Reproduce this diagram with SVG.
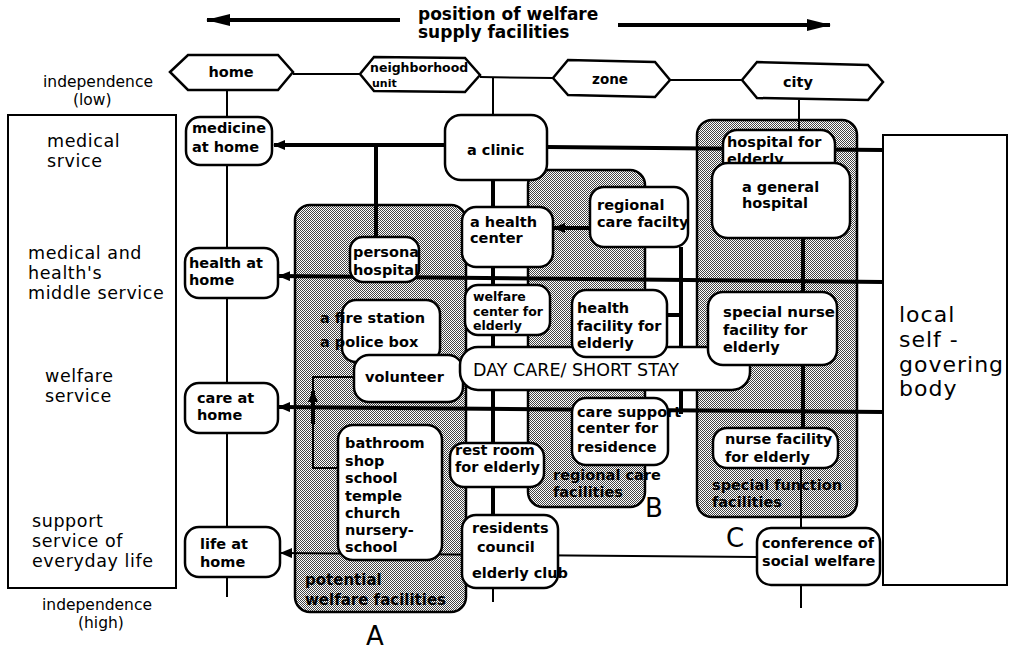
<svg xmlns="http://www.w3.org/2000/svg" width="1013" height="650" viewBox="0 0 1013 650">
<defs>
<pattern id="dots" width="2" height="2" patternUnits="userSpaceOnUse"><rect width="2" height="2" fill="#fff"/><rect width="1" height="1" fill="#444"/><rect x="1" y="1" width="1" height="1" fill="#444"/></pattern>
<marker id="ah" viewBox="0 0 12 10" refX="11" refY="5" markerWidth="12" markerHeight="10" markerUnits="userSpaceOnUse" orient="auto"><path d="M0,0 L12,5 L0,10 z" fill="#000"/></marker>
<marker id="big" viewBox="0 0 24 12" refX="23" refY="6" markerWidth="24" markerHeight="12" markerUnits="userSpaceOnUse" orient="auto"><path d="M0,0 L24,6 L0,12 z" fill="#000"/></marker>
</defs>
<style>
.t{font-family:"DejaVu Sans","Liberation Sans",sans-serif;fill:#000}
.n{font-weight:bold;font-size:14.5px}
.s{font-weight:bold;font-size:12.5px}
.lb{font-size:17.5px;letter-spacing:0.6px}
.ind{font-size:15.5px}
.big{font-size:26px}
.loc{font-size:22px;letter-spacing:1px}
.box{fill:#fff;stroke:#000;stroke-width:2.5}
.frame{fill:#fff;stroke:#000;stroke-width:2}
.reg{fill:url(#dots);stroke:#000;stroke-width:2.5}
.thick{stroke:#000;stroke-width:4;fill:none}
.thin{stroke:#000;stroke-width:2;fill:none}
</style>
<rect width="1013" height="650" fill="#fff"/>

<g id="title">
<line class="thick" x1="400" y1="20" x2="207" y2="20" marker-end="url(#big)"/>
<line class="thick" x1="618" y1="25" x2="830" y2="25" marker-end="url(#big)"/>
<text class="t" x="418" y="20" style="font-weight:bold;font-size:17px">position of  welfare</text>
<text class="t" x="418" y="38" style="font-weight:bold;font-size:17px">supply facilities</text>
</g>

<g id="left-frame">
<rect class="frame" x="8" y="115" width="168" height="473"/>
<text class="t ind" x="43" y="87">independence</text>
<text class="t ind" x="73" y="105">(low)</text>
<text class="t lb" x="47" y="147">medical</text>
<text class="t lb" x="47" y="167">srvice</text>
<text class="t lb" x="28" y="259">medical and</text>
<text class="t lb" x="28" y="279">health's</text>
<text class="t lb" x="28" y="299">middle service</text>
<text class="t lb" x="45" y="382">welfare</text>
<text class="t lb" x="45" y="402">service</text>
<text class="t lb" x="32" y="527">support</text>
<text class="t lb" x="32" y="547">service of</text>
<text class="t lb" x="32" y="567">everyday life</text>
<text class="t ind" x="42" y="610">independence</text>
<text class="t ind" x="78" y="628">(high)</text>
</g>

<g id="regions">
<g id="region-A"><rect class="reg" x="295" y="205" width="171" height="407" rx="15"/></g>
<g id="region-B"><rect class="reg" x="528" y="170" width="117" height="337" rx="15"/></g>
<g id="region-C"><rect class="reg" x="697" y="120" width="160" height="397" rx="15"/></g>
</g>

<g id="connectors">
<line class="thin" x1="293" y1="74" x2="360" y2="74"/>
<line class="thin" x1="480" y1="77" x2="553" y2="78"/>
<line class="thin" x1="670" y1="80" x2="742" y2="80"/>
<line class="thin" x1="227" y1="90" x2="227" y2="597"/>
<line class="thin" x1="493" y1="77" x2="493" y2="115"/>
<line class="thick" x1="493" y1="115" x2="493" y2="517"/>
<line class="thin" x1="493" y1="588" x2="493" y2="602"/>
<line class="thin" x1="799" y1="100" x2="799" y2="132"/>
<line class="thick" x1="803" y1="238" x2="803" y2="428"/>
<line class="thin" x1="801" y1="468" x2="801" y2="528"/>
<line class="thin" x1="801" y1="585" x2="801" y2="608"/>
<line class="thick" x1="445" y1="145" x2="274" y2="145" marker-end="url(#ah)"/>
<line class="thick" x1="547" y1="147" x2="883" y2="150"/>
<line class="thick" x1="376" y1="145" x2="376" y2="237"/>
<line class="thick" x1="883" y1="282" x2="279" y2="276" marker-end="url(#ah)"/>
<line class="thick" x1="883" y1="412" x2="279" y2="407" marker-end="url(#ah)"/>
<line class="thin" x1="757" y1="557" x2="281" y2="553" marker-end="url(#ah)"/>
<line class="thick" x1="590" y1="228" x2="554" y2="228" marker-end="url(#ah)"/>
<line class="thick" x1="667" y1="315" x2="682" y2="315"/>
<line class="thick" x1="681" y1="247" x2="681" y2="414"/>
<path class="thin" d="M356,377 H313 V468 H338"/>
<line class="thick" x1="313" y1="424" x2="313" y2="391" marker-end="url(#ah)"/>
</g>

<g id="hex-home"><polygon class="box" points="170,72 188,55 278,55 293,72 278,90 188,90"/><text class="t n" x="231" y="77" text-anchor="middle">home</text></g>
<g id="hex-neighborhood"><polygon class="box" points="360,74 374,57 465,58 480,75 465,92 374,91"/><text class="t s" x="370" y="72">neighborhood</text><text class="t" x="372" y="87" style="font-weight:bold;font-size:11px">unit</text></g>
<g id="hex-zone"><polygon class="box" points="553,78 568,60 655,62 670,80 655,97 568,95"/><text class="t" x="610" y="84" text-anchor="middle" style="font-weight:bold;font-size:13.5px">zone</text></g>
<g id="hex-city"><polygon class="box" points="742,80 757,62 868,65 883,82 868,100 757,98"/><text class="t n" x="798" y="87" text-anchor="middle">city</text></g>

<g id="medicine-at-home"><rect class="box" x="186" y="117" width="86" height="48" rx="14"/><text class="t n" x="192" y="133">medicine</text><text class="t n" x="192" y="152">at home</text></g>
<g id="health-at-home"><rect class="box" x="185" y="248" width="93" height="50" rx="14"/><text class="t n" x="189" y="268">health at</text><text class="t n" x="189" y="285">home</text></g>
<g id="care-at-home"><rect class="box" x="185" y="383" width="93" height="50" rx="14"/><text class="t n" x="197" y="403">care at</text><text class="t n" x="197" y="420">home</text></g>
<g id="life-at-home"><rect class="box" x="185" y="527" width="95" height="50" rx="14"/><text class="t n" x="200" y="549">life at</text><text class="t n" x="200" y="567">home</text></g>

<g id="a-clinic"><rect class="box" x="445" y="115" width="102" height="65" rx="16"/><text class="t n" x="467" y="155">a clinic</text></g>
<g id="hospital-for-elderly"><rect class="box" x="723" y="130" width="112" height="50" rx="14"/><text class="t n" x="727" y="147">hospital for</text><text class="t n" x="727" y="164">elderly</text></g>
<g id="a-general-hospital"><rect class="box" x="712" y="163" width="138" height="75" rx="16"/><text class="t n" x="742" y="192">a general</text><text class="t n" x="742" y="208">hospital</text></g>
<g id="persona-hospital"><rect class="box" x="350" y="237" width="69" height="45" rx="13"/><text class="t n" x="353" y="257">persona</text><text class="t n" x="353" y="275">hospital</text></g>
<g id="a-health-center"><rect class="box" x="462" y="207" width="91" height="60" rx="14"/><text class="t n" x="470" y="227">a health</text><text class="t n" x="470" y="243">center</text></g>
<g id="regional-care-facility"><rect class="box" x="590" y="187" width="98" height="60" rx="14"/><text class="t n" x="597" y="210">regional</text><text class="t n" x="597" y="227">care facilty</text></g>
<g id="fire-station"><rect class="box" x="342" y="300" width="98" height="62" rx="14"/><text class="t n" x="320" y="323">a fire station</text><text class="t n" x="320" y="347">a police box</text></g>
<g id="volunteer"><rect class="box" x="354" y="355" width="109" height="47" rx="15"/><text class="t n" x="365" y="382">volunteer</text></g>
<g id="day-care"><rect class="box" x="460" y="347" width="290" height="43" rx="18"/><text class="t" x="473" y="376" style="font-size:17.5px">DAY  CARE/ SHORT  STAY</text></g>
<g id="welfare-center"><rect class="box" x="465" y="285" width="85" height="50" rx="13"/><text class="t s" x="473" y="301">welfare</text><text class="t s" x="473" y="316">center for</text><text class="t s" x="473" y="330">elderly</text></g>
<g id="health-facility"><rect class="box" x="572" y="290" width="95" height="67" rx="14"/><text class="t n" x="577" y="313">health</text><text class="t n" x="577" y="331">facility for</text><text class="t n" x="577" y="348">elderly</text></g>
<g id="special-nurse"><rect class="box" x="708" y="292" width="129" height="73" rx="15"/><text class="t n" x="723" y="317" textLength="112" lengthAdjust="spacingAndGlyphs">special nurse</text><text class="t n" x="723" y="335">facility for</text><text class="t n" x="723" y="352">elderly</text></g>
<g id="care-support"><rect class="box" x="572" y="398" width="96" height="67" rx="14"/><text class="t n" x="577" y="417">care support</text><text class="t n" x="577" y="433">center for</text><text class="t n" x="577" y="452">residence</text></g>
<g id="nurse-facility"><rect class="box" x="713" y="428" width="125" height="40" rx="14"/><text class="t n" x="725" y="444">nurse facility</text><text class="t n" x="725" y="462">for elderly</text></g>
<g id="bathroom"><rect class="box" x="338" y="425" width="104" height="135" rx="15"/>
<text class="t n" x="345" y="448">bathroom</text><text class="t n" x="345" y="466">shop</text><text class="t n" x="345" y="483">school</text><text class="t n" x="345" y="501">temple</text><text class="t n" x="345" y="518">church</text><text class="t n" x="345" y="535">nursery-</text><text class="t n" x="345" y="552">school</text></g>
<g id="rest-room"><rect class="box" x="450" y="443" width="94" height="44" rx="14"/><text class="t n" x="455" y="455">rest room</text><text class="t n" x="455" y="472">for elderly</text></g>
<g id="residents-council"><rect class="box" x="462" y="515" width="96" height="73" rx="14"/><text class="t n" x="472" y="533">residents</text><text class="t n" x="477" y="552">council</text><text class="t n" x="472" y="578">elderly club</text></g>
<g id="conference"><rect class="box" x="757" y="528" width="123" height="57" rx="14"/><text class="t n" x="762" y="548">conference of</text><text class="t n" x="762" y="566">social welfare</text></g>

<g id="region-labels">
<text class="t n" x="305" y="585" style="font-size:15px">potential</text>
<text class="t n" x="305" y="605" style="font-size:15px">welfare facilities</text>
<text class="t n" x="553" y="480">regional care</text>
<text class="t n" x="553" y="497">facilities</text>
<text class="t n" x="712" y="490">special function</text>
<text class="t n" x="712" y="507">facilities</text>
<text class="t big" x="375" y="645" text-anchor="middle">A</text>
<text class="t big" x="654" y="517" text-anchor="middle">B</text>
<text class="t big" x="735" y="547" text-anchor="middle">C</text>
</g>

<g id="local-self-governing-body">
<rect class="frame" x="883" y="135" width="124" height="450"/>
<text class="t loc" x="899" y="322">local</text>
<text class="t loc" x="899" y="347">self -</text>
<text class="t loc" x="899" y="372">govering</text>
<text class="t loc" x="899" y="396">body</text>
</g>
</svg>
